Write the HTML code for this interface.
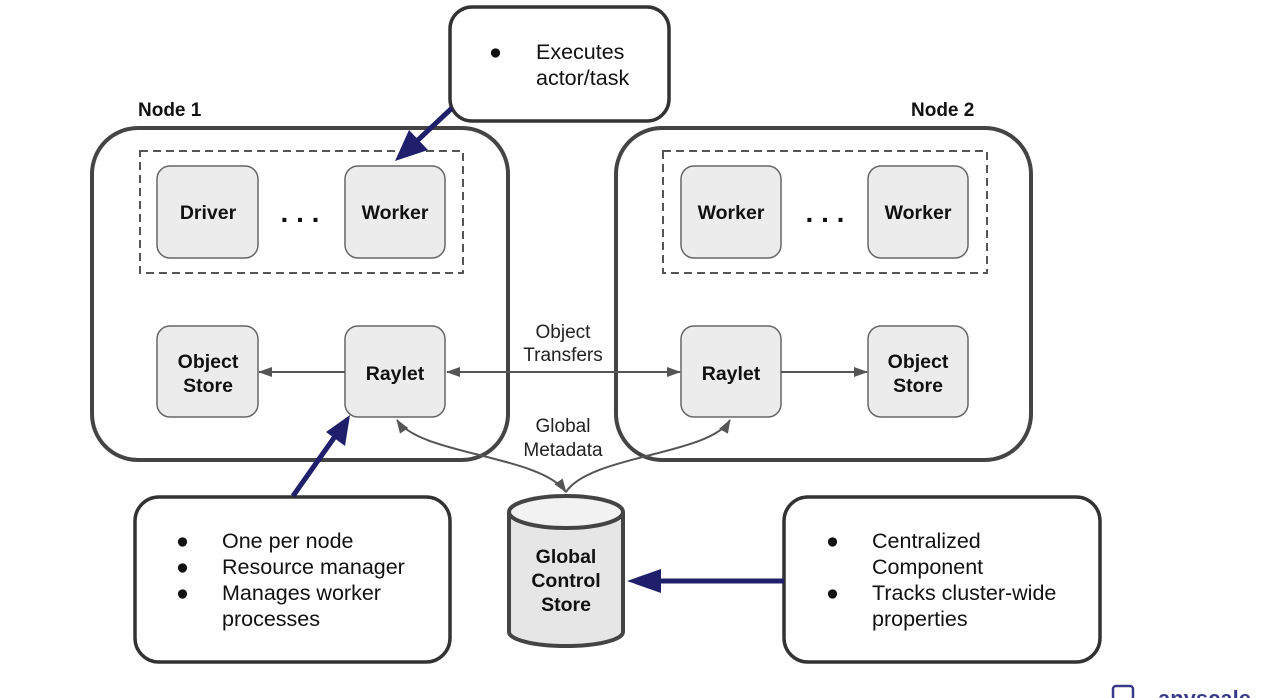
<!DOCTYPE html>
<html><head><style>
body{margin:0;background:#fff;}
svg{display:block;font-family:"Liberation Sans",Arial,sans-serif;}
</style></head><body>
<svg width="1279" height="698" viewBox="0 0 1279 698">
<defs>
<marker id="g" markerWidth="14" markerHeight="14" refX="13" refY="7" orient="auto" markerUnits="userSpaceOnUse"><path d="M0,2 L14,7 L0,12 z" fill="#555"/></marker>
<marker id="gs" markerWidth="14" markerHeight="14" refX="1" refY="7" orient="auto" markerUnits="userSpaceOnUse"><path d="M14,2 L0,7 L14,12 z" fill="#555"/></marker>
</defs>
<rect x="92" y="128" width="416" height="332" rx="46" fill="none" stroke="#444" stroke-width="4"/>
<rect x="616" y="128" width="415" height="332" rx="46" fill="none" stroke="#444" stroke-width="4"/>
<text x="138" y="116" font-size="19" font-weight="bold" fill="#111">Node 1</text>
<text x="911" y="116" font-size="19" font-weight="bold" fill="#111">Node 2</text>
<rect x="140" y="151" width="323" height="122" fill="none" stroke="#555" stroke-width="2" stroke-dasharray="8,5"/>
<rect x="663" y="151" width="324" height="122" fill="none" stroke="#555" stroke-width="2" stroke-dasharray="8,5"/>
<g fill="#ececec" stroke="#666" stroke-width="1.5">
<rect x="157" y="166" width="101" height="92" rx="13"/>
<rect x="345" y="166" width="100" height="92" rx="13"/>
<rect x="681" y="166" width="100" height="92" rx="13"/>
<rect x="868" y="166" width="100" height="92" rx="13"/>
<rect x="157" y="326" width="101" height="91" rx="13"/>
<rect x="345" y="326" width="100" height="91" rx="13"/>
<rect x="681" y="326" width="100" height="91" rx="13"/>
<rect x="868" y="326" width="100" height="91" rx="13"/>
</g>
<g font-size="19.5" font-weight="bold" fill="#111" text-anchor="middle">
<text x="208" y="219">Driver</text>
<text x="395" y="219">Worker</text>
<text x="731" y="219">Worker</text>
<text x="918" y="219">Worker</text>
<text x="208" y="368">Object</text><text x="208" y="392">Store</text>
<text x="395" y="380">Raylet</text>
<text x="731" y="380">Raylet</text>
<text x="918" y="368">Object</text><text x="918" y="392">Store</text>
<text x="300" y="222" font-size="28">. . .</text>
<text x="825" y="222" font-size="28">. . .</text>
</g>
<g stroke="#555" stroke-width="2" fill="none">
<line x1="345" y1="372" x2="259" y2="372" marker-end="url(#g)"/>
<line x1="447" y1="372" x2="680" y2="372" marker-start="url(#gs)" marker-end="url(#g)"/>
<line x1="781" y1="372" x2="867" y2="372" marker-end="url(#g)"/>
<path d="M566,492 C540,455 420,455 397,420" marker-start="url(#gs)" marker-end="url(#g)"/>
<path d="M566,492 C590,455 710,455 730,420" marker-end="url(#g)"/>
</g>
<g font-size="19" fill="#222" text-anchor="middle">
<text x="563" y="338">Object</text><text x="563" y="361">Transfers</text>
<text x="563" y="432">Global</text><text x="563" y="456">Metadata</text>
</g>
<path d="M509,512 L509,632 A57,14 0 0 0 623,632 L623,512" fill="#e6e6e6" stroke="#444" stroke-width="4"/>
<ellipse cx="566" cy="512" rx="57" ry="16" fill="#f2f2f2" stroke="#444" stroke-width="4"/>
<g font-size="19.5" font-weight="bold" fill="#111" text-anchor="middle">
<text x="566" y="563">Global</text><text x="566" y="587">Control</text><text x="566" y="611">Store</text>
</g>
<g fill="#fff" stroke="#333" stroke-width="3.5">
<rect x="450" y="7" width="219" height="114" rx="22"/>
<rect x="135" y="497" width="315" height="165" rx="24"/>
<rect x="784" y="497" width="316" height="165" rx="24"/>
</g>
<g font-size="21.5" fill="#111">
<text x="489" y="59">●</text><text x="536" y="59">Executes</text><text x="536" y="85">actor/task</text>
<text x="176" y="548">●</text><text x="222" y="548">One per node</text>
<text x="176" y="574">●</text><text x="222" y="574">Resource manager</text>
<text x="176" y="600">●</text><text x="222" y="600">Manages worker</text>
<text x="222" y="626">processes</text>
<text x="826" y="548">●</text><text x="872" y="548">Centralized</text>
<text x="872" y="574">Component</text>
<text x="826" y="600">●</text><text x="872" y="600">Tracks cluster-wide</text>
<text x="872" y="626">properties</text>
</g>
<g stroke="#1f1f6b" stroke-width="5" fill="#1f1f6b">
<line x1="452" y1="108" x2="418" y2="140"/>
<line x1="293" y1="496" x2="336" y2="435"/>
<line x1="784" y1="581" x2="655" y2="581"/>
</g>
<g fill="#1f1f6b">
<polygon points="395,161 409,130 428,150"/>
<polygon points="350,415 345,446 326,432"/>
<polygon points="627,581 661,569 661,593"/>
</g>
<rect x="1113" y="686" width="20" height="14" rx="3" fill="none" stroke="#3a3a8a" stroke-width="2.5"/>
<text x="1158" y="706" font-size="22" font-weight="bold" fill="#3a3a8a">anyscale</text>
</svg>
</body></html>
